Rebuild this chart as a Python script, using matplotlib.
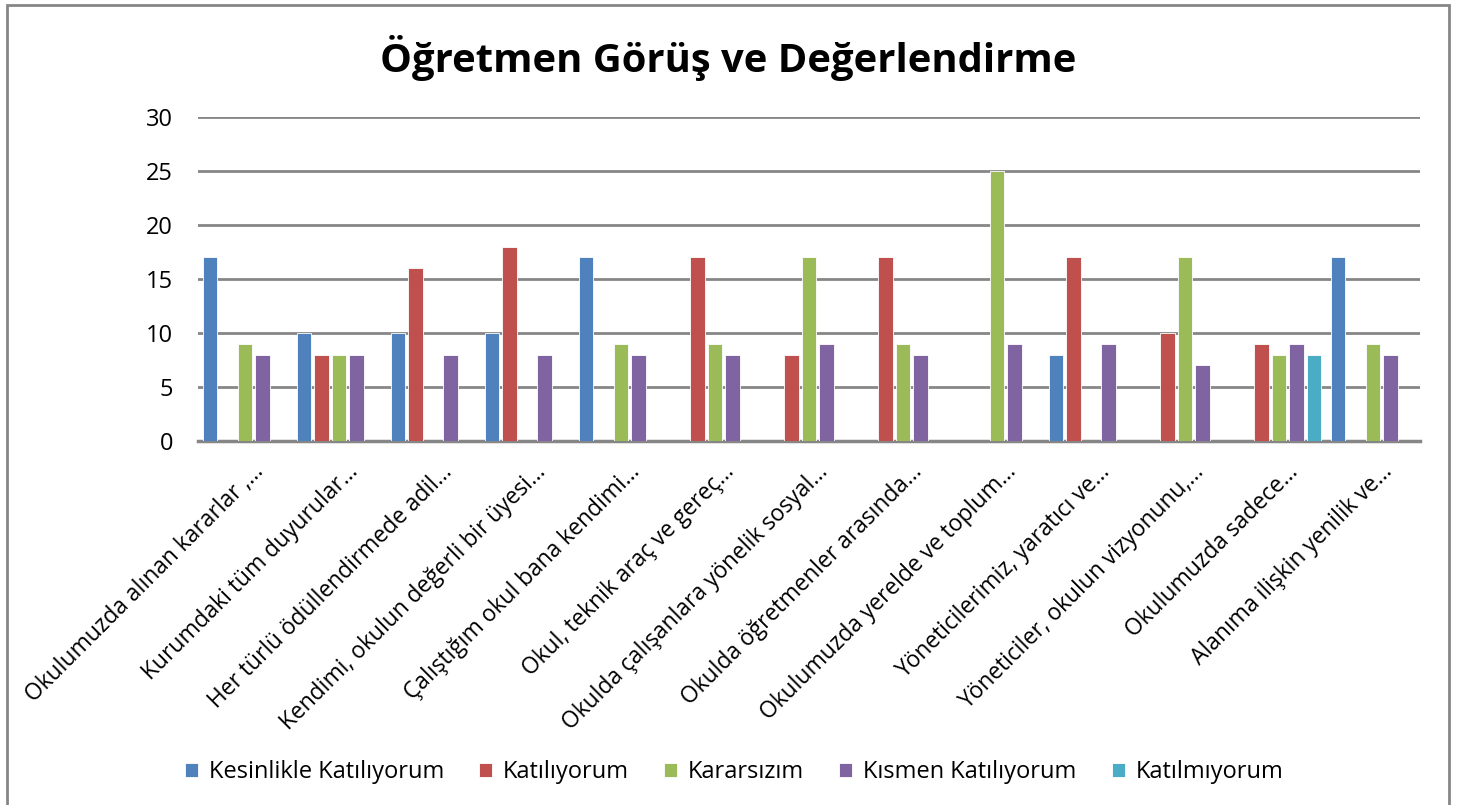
import matplotlib
matplotlib.use("Agg")
import matplotlib.pyplot as plt
import matplotlib.transforms as mtransforms
from matplotlib.patches import Rectangle
import numpy as np

plt.rcParams['font.family'] = ['Open Sans', 'DejaVu Sans']

categories = [
    "Okulumuzda alınan kararlar ,...",
    "Kurumdaki tüm duyurular...",
    "Her türlü ödüllendirmede adil...",
    "Kendimi, okulun değerli bir üyesi...",
    "Çalıştığım okul bana kendimi...",
    "Okul, teknik araç ve gereç...",
    "Okulda çalışanlara yönelik sosyal...",
    "Okulda öğretmenler arasında...",
    "Okulumuzda yerelde ve toplum...",
    "Yöneticilerimiz, yaratıcı ve...",
    "Yöneticiler, okulun vizyonunu,...",
    "Okulumuzda sadece...",
    "Alanıma ilişkin yenilik ve...",
]
series_names = ["Kesinlikle Katılıyorum", "Katılıyorum", "Kararsızım",
                "Kısmen Katılıyorum", "Katılmıyorum"]
kesinlikle = [17, 10, 10, 10, 17, 0, 0, 0, 0, 8, 0, 0, 17]
katiliyorum = [0, 8, 16, 18, 0, 17, 8, 17, 0, 17, 10, 9, 0]
kararsizim = [9, 8, 0, 0, 9, 9, 17, 9, 25, 0, 17, 8, 9]
kismen = [8, 8, 8, 8, 8, 8, 9, 8, 9, 9, 7, 9, 8]
katilmiyorum = [0, 0, 0, 0, 0, 0, 0, 0, 0, 0, 0, 8, 0]
series = [kesinlikle, katiliyorum, kararsizim, kismen, katilmiyorum]
colors = ["#4F81BD", "#C0504D", "#9BBB59", "#8064A2", "#4BACC6"]

W, H = 1459, 805
fig = plt.figure(figsize=(W / 100, H / 100), dpi=100)
ax = fig.add_axes([198 / W, 1 - 441 / H, (1420 - 198) / W, (441 - 117) / H])

n = len(categories)
x = np.arange(n)
slot = 0.186
bw = 0.15
for i, (vals, c, name) in enumerate(zip(series, colors, series_names)):
    off = (i - 2) * slot
    ax.bar(x + off, vals, width=bw, color=c, label=name, zorder=3,
           edgecolor='white', linewidth=0.6)

ax.set_xlim(-0.5, n - 0.5)
ax.set_ylim(0, 30)
ax.set_yticks(range(0, 31, 5))
ax.yaxis.grid(True, color='#868686', linewidth=2, zorder=0)
ax.set_axisbelow(True)
for s in ['left', 'right', 'top']:
    ax.spines[s].set_visible(False)
ax.spines['bottom'].set_color('#868686')
ax.spines['bottom'].set_linewidth(2.5)
ax.tick_params(axis='y', length=0, pad=18, labelsize=17)
ax.set_xticks([])

offset = mtransforms.ScaledTranslation(7 / 100, -19 / 100, fig.dpi_scale_trans)
for xi, lab in zip(x, categories):
    ax.text(xi, 0, lab, rotation=45, rotation_mode='anchor', ha='right', va='top',
            fontsize=16.4, transform=ax.transData + offset)

fig.text(728 / W, 1 - 58 / H, "Öğretmen Görüş ve Değerlendirme", ha='center', va='center',
         fontsize=28.8, fontweight='bold')

handles, labels = ax.get_legend_handles_labels()
fig.legend(handles, labels, loc='center', bbox_to_anchor=(734 / W, 1 - 772 / H), ncol=5,
           frameon=False, fontsize=17, handlelength=0.55, handleheight=0.55,
           handletextpad=0.45, columnspacing=1.5)

fig.add_artist(Rectangle((7 / W, -0.01), (1449 - 7) / W, 1 - 5 / H + 0.01, transform=fig.transFigure,
                         fill=False, edgecolor='#868686', linewidth=2))

fig.savefig("out.png", dpi=100)
